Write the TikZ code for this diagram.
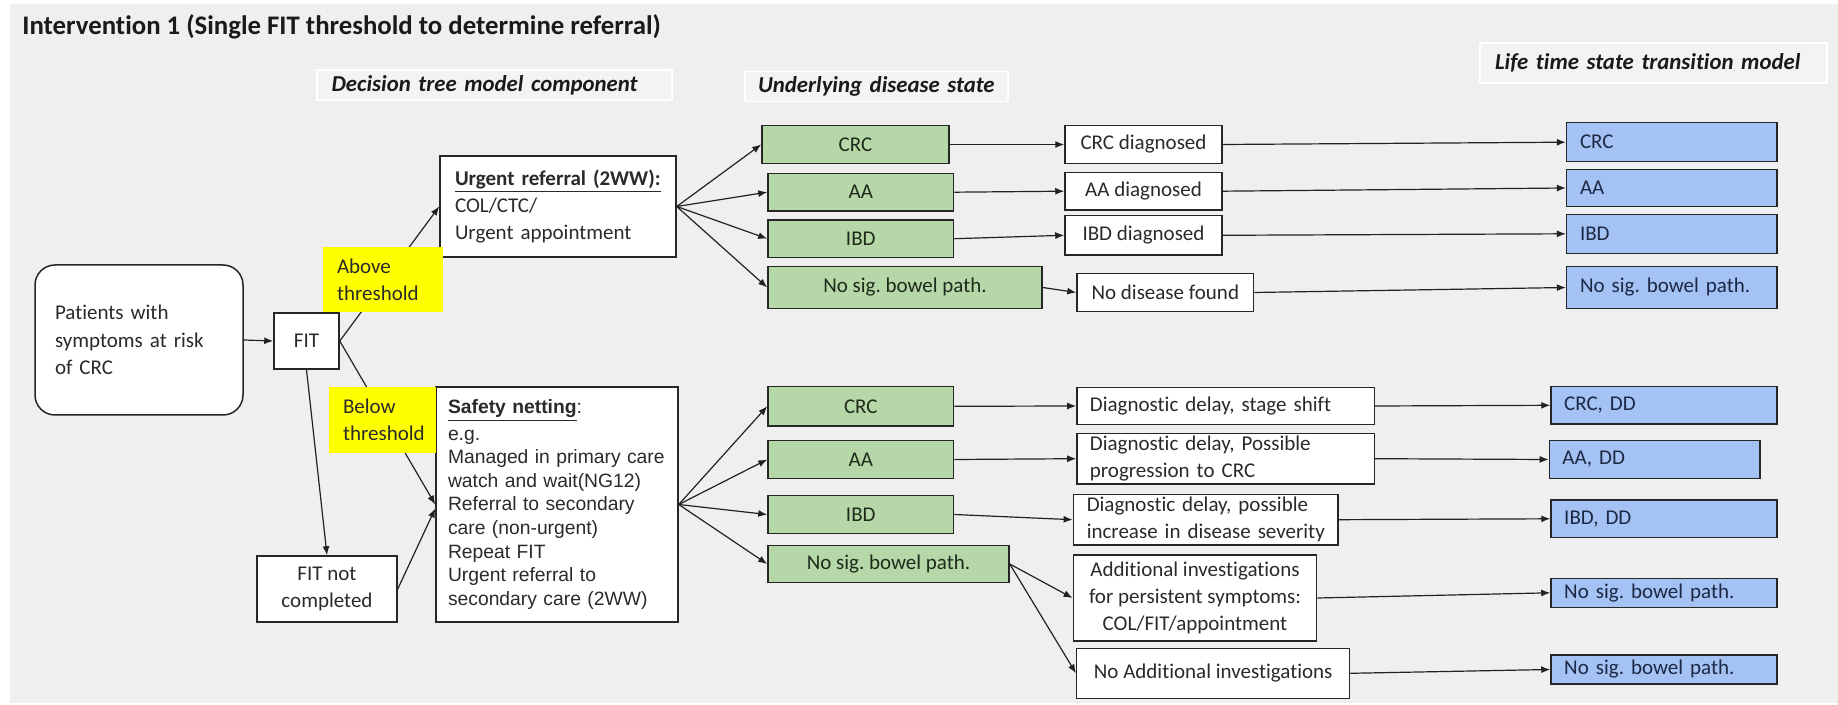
\documentclass[tikz,border=0pt]{standalone}
\usepackage{fontspec}
\setmainfont{Carlito}[Ligatures=NoCommon]
\newfontfamily\arialf{Liberation Sans}
\usetikzlibrary{arrows.meta}
\definecolor{bgc}{HTML}{EFEFEF}
\definecolor{hdfill}{HTML}{F3F3F3}
\definecolor{greenc}{HTML}{B6D7A8}
\definecolor{bluec}{HTML}{A4C2F4}
\definecolor{bordc}{HTML}{262626}
\definecolor{linec}{HTML}{222222}
\definecolor{txtc}{HTML}{2A2A2A}
\definecolor{gtxt}{HTML}{1E2A1A}
\definecolor{btxt}{HTML}{1C2844}
\definecolor{htxt}{HTML}{1A1A1A}
\definecolor{yellowc}{HTML}{FFFF00}
\frenchspacing
\begin{document}
\begin{tikzpicture}[x=0.5pt,y=-0.5pt,
  bx/.style={draw=bordc,line width=0.75pt,fill=white,inner sep=0pt,text=txtc,
    font=\fontsize{10.5}{13.5}\selectfont,align=center},
  gr/.style={bx,fill=greenc,text=gtxt},
  bl/.style={bx,fill=bluec,text=btxt,align=left},
  blu/.style={bl,text width=91.8pt,inner xsep=6.7pt},
  bll/.style={bl,text width=99.8pt,inner xsep=6.6pt},
  hd/.style={fill=hdfill,draw=white,line width=0.8pt,inner sep=0pt,text=htxt,
    font=\fontsize{11.4}{13}\selectfont\bfseries\itshape,align=left},
  yl/.style={fill=yellowc,inner sep=0pt,text=txtc,
    font=\fontsize{10.5}{13.35}\selectfont,align=left},
  arr/.style={draw=linec,line width=0.6pt,-{Latex[length=4.5pt,width=3.5pt]}},
  wh/.style 2 args={minimum width=#1pt,minimum height=#2pt},
]
\useasboundingbox (0,0) rectangle (1838,705);
\fill[white] (0,0) rectangle (1838,705);
\fill[bgc] (10,4) rectangle (1838,703);

% title and headers
\node[anchor=base west,font=\fontsize{13.4}{16}\selectfont\bfseries,text=htxt,inner sep=0pt] (title) at (22,35) {Intervention 1 (Single FIT threshold to determine referral)};
\node[hd,wh={177.5}{15},text width=162.9pt,inner xsep=7.3pt] (h1) at (494.5,85) {Decision tree model component};
\node[hd,wh={131.5}{15},text width=118.5pt,inner xsep=6.5pt] (h2) at (876.5,86.7) {Underlying disease state};
\node[hd,wh={173.5}{20},text width=158.5pt,inner xsep=7.5pt] (h3) at (1653.5,63.3) {Life time state transition model};

% left part
\node[bx,rounded corners=10pt,wh={104}{75},text width=84pt,inner xsep=10pt,align=left,
  font=\fontsize{10.5}{13.75}\selectfont] (pat) at (139,340) {Patients with\\symptoms at risk\\of CRC};
\node[bx,wh={32.5}{28}] (fit) at (306.5,341) {FIT};
\node[bx,wh={118}{50.5},text width=103pt,inner xsep=7.5pt,align=left] (urg) at (558,206.5)
  {\textbf{\underline{Urgent referral (2WW):}}\\COL/CTC/\\Urgent appointment};
\node[bx,wh={121}{117.5},text width=109pt,inner xsep=6pt,align=left,
  font=\arialf\fontsize{9.65}{11.8}\selectfont] (saf) at (557,504.5)
  {\textbf{\underline{Safety netting}}:\\[1.5pt]e.g.\\\mbox{Managed in primary care}\\\mbox{watch and wait(NG12)}\\\mbox{Referral to secondary}\\\mbox{care (non-urgent)}\\Repeat FIT\\\mbox{Urgent referral to}\\\mbox{secondary care (2WW)}};
\node[bx,wh={70}{33},font=\fontsize{10.5}{13.35}\selectfont] (fnc) at (327,589) {FIT not\\completed};

% upper disease states
\node[gr,wh={93.5}{18.8}] (g1) at (855.5,144.5) {CRC};
\node[gr,wh={92.8}{18.85}] (g2) at (860.8,192.2) {AA};
\node[gr,wh={92.8}{18.65}] (g3) at (860.8,238.7) {IBD};
\node[gr,wh={137}{20.8}] (g4) at (905,287.5) {No sig. bowel path.};

\node[bx,wh={78.5}{18.8}] (d1) at (1143.5,144.5) {CRC diagnosed};
\node[bx,wh={78.5}{18.85}] (d2) at (1143.5,191.2) {AA diagnosed};
\node[bx,wh={78.5}{19.65}] (d3) at (1143.5,235.3) {IBD diagnosed};
\node[bx,wh={88.3}{19.2}] (d4) at (1165.3,292.5) {No disease found};

\node[blu,wh={105.2}{19.5}] (b1) at (1671.8,142.2) {CRC};
\node[blu,wh={105.2}{18.7}] (b2) at (1671.8,188) {AA};
\node[blu,wh={105.2}{19.5}] (b3) at (1671.8,233.8) {IBD};
\node[blu,wh={105.2}{20.8}] (b4) at (1671.8,287.5) {No sig. bowel path.};

% lower disease states
\node[gr,wh={92.8}{19.65}] (g5) at (860.8,406.3) {CRC};
\node[gr,wh={92.8}{18.8}] (g6) at (860.8,459.5) {AA};
\node[gr,wh={92.8}{18.8}] (g7) at (860.8,514.5) {IBD};
\node[gr,wh={120.5}{18.3}] (g8) at (888.5,564) {No sig. bowel path.};

\node[bx,wh={148.75}{18.3},text width=135.75pt,inner xsep=6.5pt,align=left] (e1) at (1225.7,406) {\mbox{Diagnostic delay, stage shift}};
\node[bx,wh={148.75}{25.35},text width=135.75pt,inner xsep=6.5pt,align=left,
  font=\fontsize{10.5}{13.3}\selectfont] (e2) at (1225.7,458.7) {\mbox{Diagnostic delay, Possible}\\\mbox{progression to CRC}};
\node[bx,wh={132.35}{25.35},text width=118.95pt,inner xsep=6.7pt,align=left,
  font=\fontsize{10.5}{13.3}\selectfont] (e3) at (1205.7,519.7) {\mbox{Diagnostic delay, possible}\\\mbox{increase in disease severity}};
\node[bx,wh={121.7}{43},font=\fontsize{10.5}{13.35}\selectfont] (e4) at (1195,598) {Additional investigations\\for persistent symptoms:\\COL/FIT/appointment};
\node[bx,wh={136.5}{25}] (e5) at (1213.2,673.3) {No Additional investigations};

\node[bll,wh={113}{18.65}] (b5) at (1664,405.3) {CRC, DD};
\node[bl,wh={105.25}{18.8},text width=92.25pt,inner xsep=6.5pt] (b6) at (1654.7,459.5) {AA, DD};
\node[bll,wh={113}{18.85}] (b7) at (1664,518.8) {IBD, DD};
\node[bll,wh={113}{14.5}] (b8) at (1664,592.8) {No sig. bowel path.};
\node[bll,wh={113}{14.5}] (b9) at (1664,669.5) {No sig. bowel path.};

% connectors
\draw[arr] (pat.east) -- (fit.west);
\draw[arr] (fit.east) -- (urg.west);
\draw[arr] (fit.east) -- (saf.west);
\draw[arr] (fit.south) -- (fnc.north);
\draw[arr] (fnc.east) -- ([yshift=-2pt]saf.west);
\foreach \n in {g1,g2,g3,g4} \draw[arr] (urg.east) -- (\n.west);
\foreach \n in {g5,g6,g7,g8} \draw[arr] (saf.east) -- (\n.west);
\draw[arr] (g1.east) -- (d1.west);
\draw[arr] (g2.east) -- (d2.west);
\draw[arr] (g3.east) -- (d3.west);
\draw[arr] (g4.east) -- (d4.west);
\draw[arr] (d1.east) -- (b1.west);
\draw[arr] (d2.east) -- (b2.west);
\draw[arr] (d3.east) -- (b3.west);
\draw[arr] (d4.east) -- (b4.west);
\draw[arr] (g5.east) -- (e1.west);
\draw[arr] (g6.east) -- (e2.west);
\draw[arr] (g7.east) -- (e3.west);
\draw[arr] (g8.east) -- (e4.west);
\draw[arr] (g8.east) -- (e5.west);
\draw[arr] (e1.east) -- (b5.west);
\draw[arr] (e2.east) -- (b6.west);
\draw[arr] (e3.east) -- (b7.west);
\draw[arr] (e4.east) -- (b8.west);
\draw[arr] (e5.east) -- (b9.west);

% threshold labels (on top of the lines)
\node[yl,wh={60}{32.5},text width=46pt,inner xsep=7pt] (ab) at (383,279.5) {Above\\threshold};
\node[yl,wh={53.5}{33},text width=39.5pt,inner xsep=7pt] (be) at (382.5,420) {Below\\\mbox{threshold}};
\end{tikzpicture}
\end{document}
